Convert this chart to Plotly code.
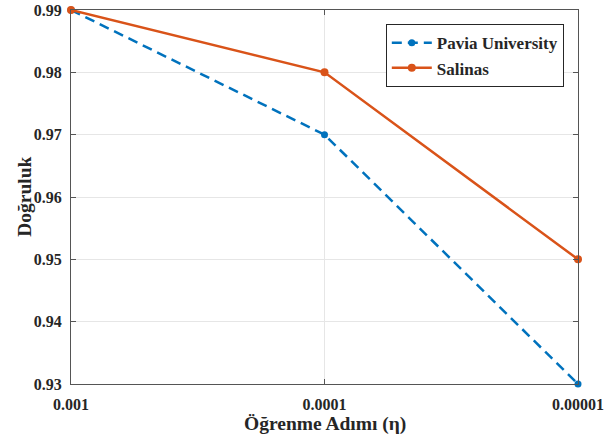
import plotly.graph_objects as go

categories = ["0.001", "0.0001", "0.00001"]
pavia = [0.99, 0.97, 0.93]
salinas = [0.99, 0.98, 0.95]
y_ticks = [0.93, 0.94, 0.95, 0.96, 0.97, 0.98, 0.99]

font_family = "Liberation Serif, Times New Roman, serif"

fig = go.Figure()
fig.add_trace(go.Scatter(
    x=categories, y=pavia, name="<b>Pavia University</b>",
    mode="lines+markers", cliponaxis=False,
    line=dict(color="#0072BD", width=2.5, dash="10px,6px"),
    marker=dict(symbol="circle", size=7, color="#0072BD"),
))
fig.add_trace(go.Scatter(
    x=categories, y=salinas, name="<b>Salinas</b>",
    mode="lines+markers", cliponaxis=False,
    line=dict(color="#D95319", width=2.5),
    marker=dict(symbol="circle", size=8, color="#D95319"),
))

axis_common = dict(
    showline=True, linecolor="#555555", linewidth=1, mirror="ticks",
    showgrid=True, gridcolor="#E6E6E6", gridwidth=1,
    ticks="inside", ticklen=5, tickcolor="#555555",
    tickfont=dict(family=font_family, size=16, color="#262626"),
    zeroline=False, automargin=False,
)

fig.update_layout(
    width=606, height=441,
    margin=dict(l=71, r=28, t=10, b=57),
    plot_bgcolor="white", paper_bgcolor="white",
    font=dict(family=font_family, color="#262626"),
    xaxis=dict(
        **axis_common, type="category", range=[0, 2],
        tickvals=categories, ticktext=[f"<b>{c}</b>" for c in categories],
        ticklabelstandoff=6,
    ),
    yaxis=dict(
        **axis_common, range=[0.93, 0.99], tickvals=y_ticks,
        ticktext=[f"<b>{v:.2f}</b>" for v in y_ticks],
        ticklabelstandoff=5,
    ),
    legend=dict(
        x=0.972, y=0.962, xanchor="right", yanchor="top",
        bgcolor="white", bordercolor="#262626", borderwidth=1,
        font=dict(family=font_family, size=17, color="#262626"),
        tracegroupgap=0, itemwidth=40,
    ),
    showlegend=True,
    annotations=[
        dict(text="<b>Öğrenme Adımı (η)</b>", xref="paper", yref="paper",
             x=0.5, y=-0.107, xanchor="center", yanchor="middle", showarrow=False,
             font=dict(family=font_family, size=19.5, color="#262626")),
        dict(text="<b>Doğruluk</b>", xref="paper", yref="paper",
             x=-0.093, y=0.5, xanchor="center", yanchor="middle", showarrow=False,
             textangle=-90,
             font=dict(family=font_family, size=19.5, color="#262626")),
    ],
)

fig.write_html("out.html", post_script="document.body.style.margin='0';",
               config={"displayModeBar": False})
